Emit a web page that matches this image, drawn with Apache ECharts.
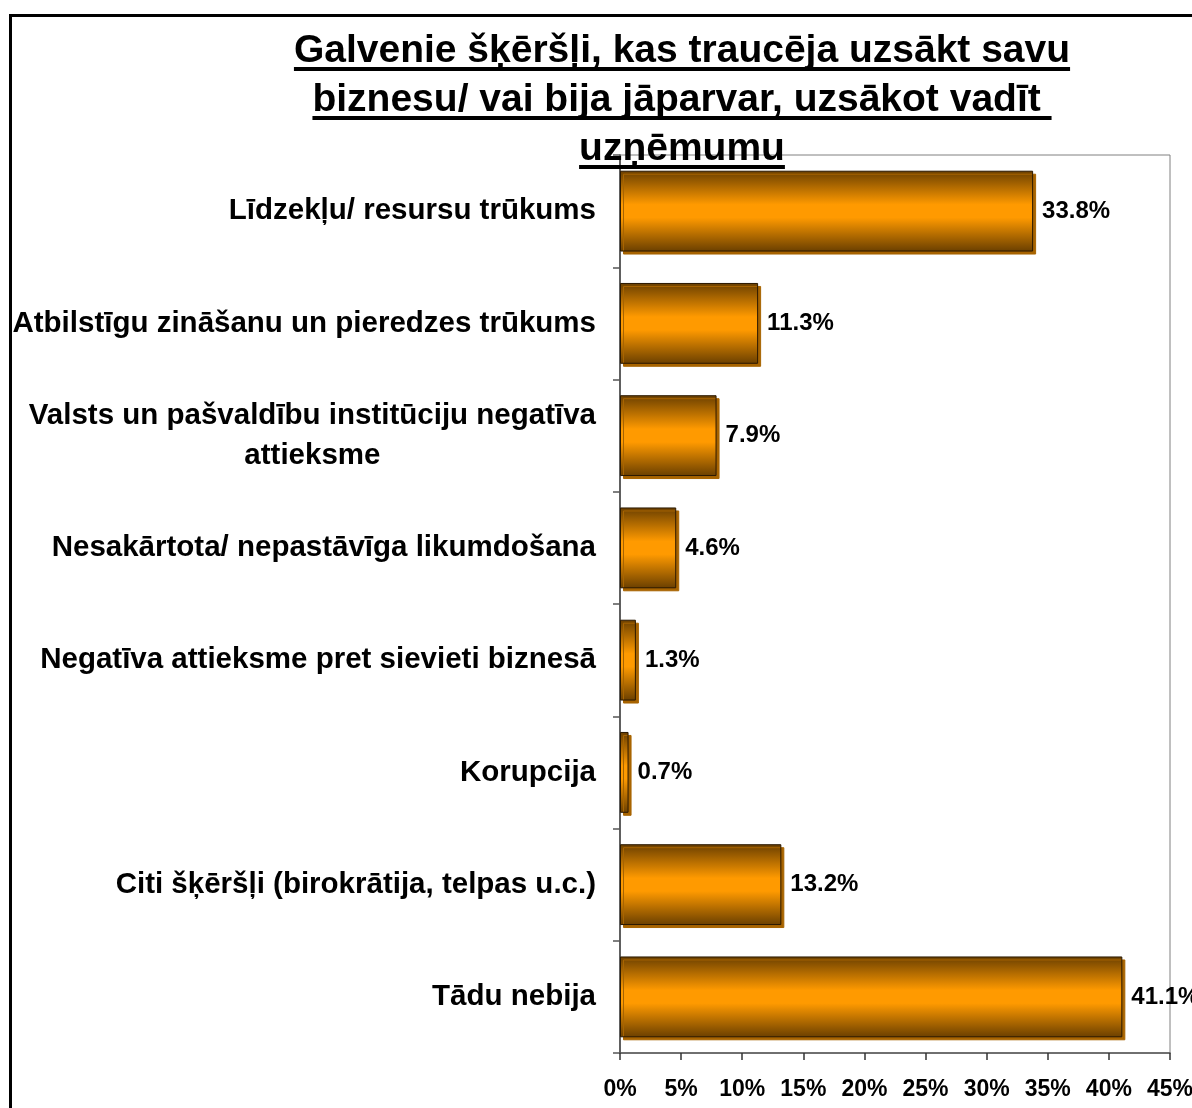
<!DOCTYPE html>
<html>
<head>
<meta charset="utf-8">
<script src="https://cdn.jsdelivr.net/npm/echarts@6/dist/echarts.min.js"></script>
<style>
  html, body { margin: 0; padding: 0; background: #fff; }
  #chart { width: 1192px; height: 1108px; }
</style>
</head>
<body>
<div id="chart"></div>
<script>
// Galvenie šķēršļi - horizontālais stabiņu grafiks
const titleLines = [
    'Galvenie šķēršļi, kas traucēja uzsākt savu',
    'biznesu/ vai bija jāparvar, uzsākot vadīt ',
    'uzņēmumu'
]
const categories = [
    'Līdzekļu/ resursu trūkums',
    'Atbilstīgu zināšanu un pieredzes trūkums',
    'Valsts un pašvaldību institūciju negatīva\nattieksme',
    'Nesakārtota/ nepastāvīga likumdošana',
    'Negatīva attieksme pret sievieti biznesā',
    'Korupcija',
    'Citi šķēršļi (birokrātija, telpas u.c.)',
    'Tādu nebija'
]
const values = [33.8, 11.3, 7.9, 4.6, 1.3, 0.7, 13.2, 41.1]
const xTicks = [0, 5, 10, 15, 20, 25, 30, 35, 40, 45]

const FONT = '"Liberation Sans", Arial, sans-serif'
const chart = echarts.init(document.getElementById('chart'))

// pasvītrojumi virsrakstam
const titleX = 682
const titleTop = 27
const titleSize = 39
const titleLH = 49
const ctx = document.createElement('canvas').getContext('2d')
ctx.font = 'bold ' + titleSize + 'px ' + FONT
const underlines = titleLines.map((line, i) => {
    const w = ctx.measureText(line).width
    return {
        type: 'rect',
        shape: { x: titleX - w / 2, y: 22 + titleLH * i + titleLH / 2 + 20.5, width: w, height: 4 },
        style: { fill: '#000' },
        z: 100
    }
})

const option = {
    backgroundColor: '#fff',
    animation: false,
    title: {
        text: titleLines.join('\n'),
        left: titleX,
        top: titleTop,
        textAlign: 'center',
        padding: 0,
        z: 50,
        textStyle: {
            fontFamily: FONT,
            fontSize: titleSize,
            fontWeight: 'bold',
            lineHeight: titleLH,
            color: '#000'
        }
    },
    graphic: [
        {
            type: 'rect',
            shape: { x: 10.5, y: 15.5, width: 1300, height: 1200 },
            style: { fill: 'none', stroke: '#000', lineWidth: 3 },
            z: 100
        }
    ].concat(underlines),
    grid: {
        left: 620,
        right: 22,
        top: 155,
        bottom: 55,
        show: true,
        borderColor: '#808080',
        borderWidth: 1,
        outerBoundsMode: 'none'
    },
    xAxis: {
        type: 'value',
        min: xTicks[0],
        max: xTicks[xTicks.length - 1],
        interval: 5,
        splitLine: { show: false },
        axisLine: { show: true, lineStyle: { color: '#555', width: 1.5 } },
        axisTick: { show: true, length: 7, lineStyle: { color: '#333', width: 1.5 } },
        axisLabel: {
            formatter: '{value}%',
            fontFamily: FONT,
            fontSize: 23,
            fontWeight: 'bold',
            color: '#000',
            margin: 25
        }
    },
    yAxis: {
        type: 'category',
        data: categories,
        inverse: true,
        axisLine: { show: true, lineStyle: { color: '#404040', width: 1.5 } },
        axisTick: { show: true, length: 7, lineStyle: { color: '#555', width: 1.5 } },
        axisLabel: {
            margin: 24,
            formatter: v => v.split('\n').map(l => '{c|' + l + '}').join('\n'),
            rich: {
                c: {
                    align: 'center',
                    fontFamily: FONT,
                    fontSize: 29.5,
                    fontWeight: 'bold',
                    lineHeight: 40,
                    color: '#000'
                }
            }
        }
    },
    series: [{
        type: 'bar',
        data: values,
        barCategoryGap: '28%',
        itemStyle: {
            color: new echarts.graphic.LinearGradient(0, 0, 0, 1, [
                { offset: 0, color: '#6a3f00' },
                { offset: 0.42, color: '#ff9a00' },
                { offset: 0.58, color: '#ff9a00' },
                { offset: 1, color: '#6a3f00' }
            ]),
            borderColor: '#2a1800',
            borderWidth: 1,
            shadowColor: '#a86400',
            shadowOffsetX: 3,
            shadowOffsetY: 3,
            shadowBlur: 0
        },
        label: {
            show: true,
            position: 'right',
            distance: 9,
            formatter: p => p.value.toFixed(1) + '%',
            fontFamily: FONT,
            fontSize: 24,
            fontWeight: 'bold',
            color: '#000'
        }
    }]
}

chart.setOption(option)
</script>
</body>
</html>
